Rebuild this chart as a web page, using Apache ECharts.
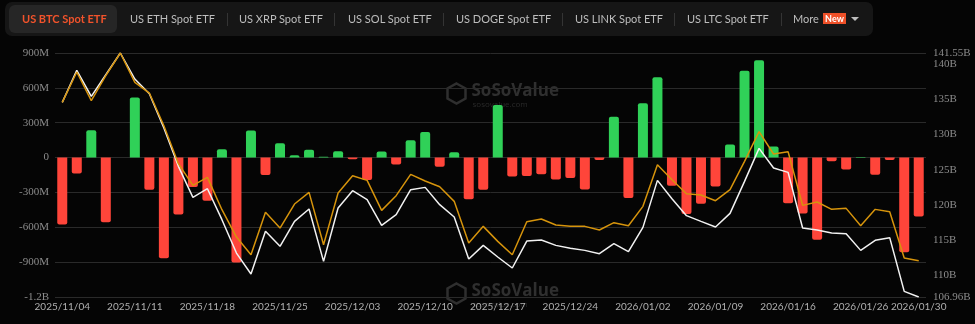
<!DOCTYPE html>
<html><head><meta charset="utf-8">
<script src="https://cdn.jsdelivr.net/npm/echarts@6/dist/echarts.min.js"></script>
<style>
html,body{margin:0;padding:0;background:#050505;}
#wrap{position:relative;width:975px;height:324px;overflow:hidden;background:#050505;}
#chart{position:absolute;left:0;top:0;width:975px;height:324px;}
#tabs{position:absolute;left:5px;top:2px;width:868px;height:34px;background:#161616;border-radius:7px;}
.t{position:absolute;top:2px;height:34px;line-height:34px;white-space:nowrap;font-family:Lato,sans-serif;font-size:11px;color:#bdbdbd;}
.act{color:#f2532b;font-weight:bold;}
#actbg{position:absolute;left:9px;top:5px;width:108px;height:28px;background:#262626;border-radius:6px;}
.sep{position:absolute;top:13px;width:1px;height:13px;background:#343434;}
.new{position:absolute;left:823px;top:13px;width:23px;height:11px;line-height:11px;background:#ee5028;color:#fff;font-family:Lato,sans-serif;font-size:9px;font-weight:bold;text-align:center;}
.caret{position:absolute;left:851px;top:17px;width:0;height:0;border-left:4px solid transparent;border-right:4px solid transparent;border-top:4px solid #bdbdbd;}
</style>
</head><body>
<div id="wrap">
<div id="chart"></div>
<div id="tabs"></div>
<div id="actbg"></div>
<div class="t act" style="left:22px">US BTC Spot ETF</div>
<div class="t" style="left:130px">US ETH Spot ETF</div>
<div class="sep" style="left:227px"></div>
<div class="t" style="left:239px">US XRP Spot ETF</div>
<div class="sep" style="left:334px"></div>
<div class="t" style="left:348px">US SOL Spot ETF</div>
<div class="sep" style="left:443px"></div>
<div class="t" style="left:456px">US DOGE Spot ETF</div>
<div class="sep" style="left:562px"></div>
<div class="t" style="left:575px">US LINK Spot ETF</div>
<div class="sep" style="left:674px"></div>
<div class="t" style="left:687px">US LTC Spot ETF</div>
<div class="sep" style="left:781px"></div>
<div class="t" style="left:793px">More</div>
<div class="new">New</div>
<div class="caret"></div>
</div>
<script>
// Trading days
const dates = [
 '2025/11/04','2025/11/05','2025/11/06','2025/11/07','2025/11/10','2025/11/11','2025/11/12','2025/11/13','2025/11/14',
 '2025/11/17','2025/11/18','2025/11/19','2025/11/20','2025/11/21','2025/11/24','2025/11/25','2025/11/26','2025/11/28',
 '2025/12/01','2025/12/02','2025/12/03','2025/12/04','2025/12/05','2025/12/08','2025/12/09','2025/12/10','2025/12/11','2025/12/12',
 '2025/12/15','2025/12/16','2025/12/17','2025/12/18','2025/12/19','2025/12/22','2025/12/23','2025/12/24','2025/12/26',
 '2025/12/29','2025/12/30','2025/12/31','2026/01/02','2026/01/05','2026/01/06','2026/01/07','2026/01/08','2026/01/09',
 '2026/01/12','2026/01/13','2026/01/14','2026/01/15','2026/01/16','2026/01/20','2026/01/21','2026/01/22','2026/01/23',
 '2026/01/26','2026/01/27','2026/01/28','2026/01/29','2026/01/30'
];
// Daily total net inflow (USD millions)
const netInflow = [
 -575,-137,236,-557,1,518,-277,-866,-490,
 -254,-372,72,-902,234,-151,124,19,68,
 8,54,-15,-194,53,-60,150,220,-78,46,
 -358,-277,453,-162,-159,-144,-189,-175,-275,
 -20,352,-348,467,692,-243,-485,-398,-250,
 112,748,838,95,-394,-482,-707,-32,-103,
 4,-148,-20,-815,-508
];
// Total net assets (USD billions)
const netAssets = [
 134.55,139.09,135.40,138.47,141.55,137.86,135.78,130.91,125.48,
 121.08,122.31,117.92,113.19,110.22,116.27,114.14,117.68,119.43,
 112.01,119.57,122.03,120.75,117.12,118.63,122.17,122.50,120.05,118.30,
 112.34,114.28,112.63,111.07,114.89,115.04,114.28,113.86,113.57,
 113.10,114.52,113.38,116.83,123.49,120.90,118.49,117.68,116.88,
 118.82,123.35,128.03,125.24,124.63,116.74,116.45,116.03,115.93,
 113.57,114.99,115.37,107.76,106.96
];
// BTC price (USD)
const btcPrice = [
 100740,103973,100918,103582,106000,102871,101735,98254,94205,
 91896,92748,89303,86390,84508,89019,87349,89907,91150,
 85573,91079,92926,92429,89232,90795,93068,92358,91754,90191,
 85751,87527,85928,84508,88024,88308,87669,87527,87527,
 87136,87918,87598,89658,94098,92500,91008,90866,90262,
 91434,94453,97614,95235,95483,89765,90120,89338,89445,
 87598,89338,89090,84152,83868
];
const leftTicks = {min:-1200, max:900, step:300};
const assetRange = {min:106.96, max:141.55};
const priceRange = {min:80000, max:106000};

const chart = echarts.init(document.getElementById('chart'), null, {renderer:'canvas'});
const serif = '"Liberation Serif","Times New Roman",serif';
function wm(y){
  return {type:'group', left:445, top:y, silent:true, children:[
    {type:'polygon', shape:{points:[[9,0],[18,5],[18,15],[9,20],[0,15],[0,5]]}, style:{fill:'none', stroke:'#2f2f2f', lineWidth:2.5}},
    {type:'text', left:24, top:-1, style:{text:'SoSoValue', fill:'#2f2f2f', font:'bold 17px "Open Sans",sans-serif'}},
    {type:'text', left:25, top:17, style:{text:'sosovalue.com', fill:'#2a2a2a', font:'8px "Open Sans",sans-serif'}}
  ]};
}
chart.setOption({
  backgroundColor:'#050505',
  animation:false,
  graphic:[wm(81), wm(281)],
  grid:{left:55, right:49, top:53, height:244},
  xAxis:{type:'category', data:dates, boundaryGap:true,
    axisLine:{show:false}, axisTick:{show:false},
    axisLabel:{color:'#b0b0b0', fontFamily:'Lato,sans-serif', fontSize:10, margin:5,
      showMaxLabel:true, hideOverlap:false,
      interval:(i)=> i%5===0 || i===dates.length-1}},
  yAxis:[
    {type:'value', min:leftTicks.min, max:leftTicks.max, interval:leftTicks.step,
     axisLine:{show:false}, axisTick:{show:false},
     splitLine:{lineStyle:{color:'#2a2a2a', width:1}},
     axisLabel:{color:'#8c8c8c', fontFamily:serif, fontSize:11, margin:6,
       formatter:(v)=> v===0?'0':(Math.abs(v)>=1000? (v/1000)+'B' : v+'M')}},
    {type:'value', min:assetRange.min, max:assetRange.max, splitNumber:5, position:'right',
     axisLine:{show:false}, axisTick:{show:false}, splitLine:{show:false},
     axisLabel:{color:'#8c8c8c', fontFamily:serif, fontSize:11, margin:7,
       formatter:(v)=> (+v.toFixed(2))+'B'}},
    {type:'value', min:priceRange.min, max:priceRange.max, show:false}
  ],
  series:[
    {type:'bar', yAxisIndex:0, barWidth:10,
     data:netInflow.map(v=>({value:v, itemStyle:{color: v>=0?'#30d158':'#ff453a', borderRadius: v>=0?[2,2,0,0]:[0,0,2,2]}}))},
    {type:'line', yAxisIndex:1, data:netAssets, symbol:'none', lineStyle:{color:'#f2f2f2', width:1.5}},
    {type:'line', yAxisIndex:2, data:btcPrice, symbol:'none', lineStyle:{color:'#d6940c', width:1.5}}
  ]
});
</script>
</body></html>
